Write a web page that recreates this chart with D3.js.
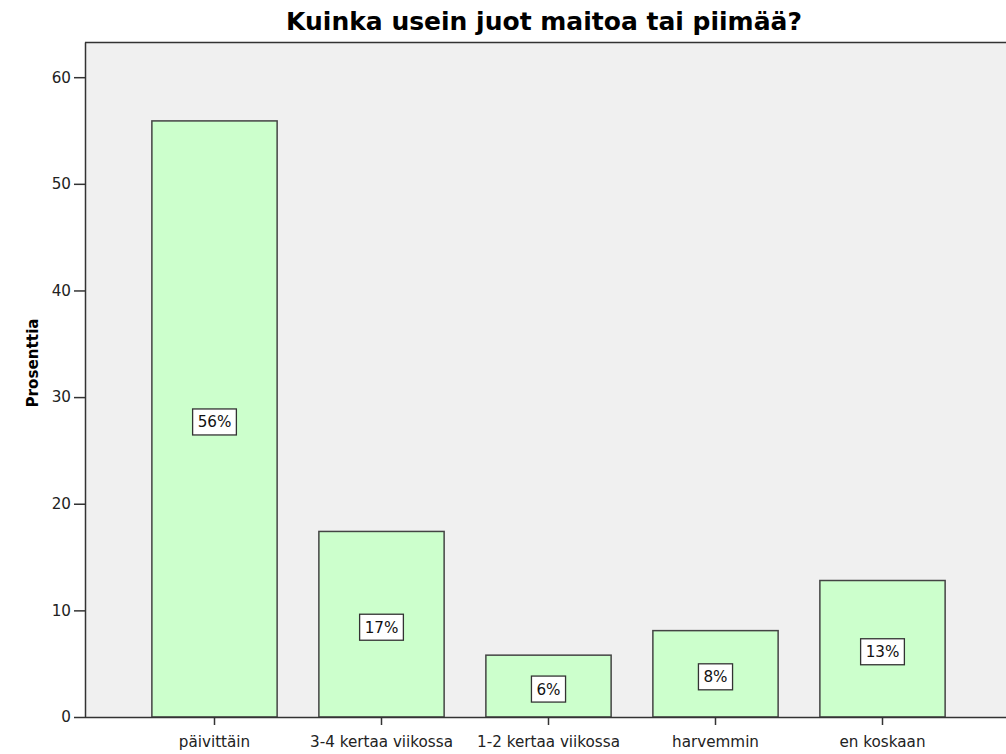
<!DOCTYPE html>
<html><head><meta charset="utf-8">
<script src="https://cdn.jsdelivr.net/npm/d3@7"></script>
<style>body{margin:0;background:#fff}svg{display:block;font-family:"DejaVu Sans",sans-serif}</style>
</head><body><svg id="c" width="1006" height="754"></svg>
<script>
const categories = ["päivittäin","3-4 kertaa viikossa","1-2 kertaa viikossa","harvemmin","en koskaan"];
const values = [55.9, 17.4, 5.8, 8.1, 12.8];
const valueLabels = ["56%","17%","6%","8%","13%"];
const yTicks = [0,10,20,30,40,50,60];
const title = "Kuinka usein juot maitoa tai piimää?";
const yTitle = "Prosenttia";

const svg = d3.select("#c");
const L = 85, R = 1006, T = 42, B = 717;
const FONT = "'DejaVu Sans',sans-serif";
const FS = 15.2;
const x = d3.scaleBand().domain(categories).range([131, 966]).paddingInner(0.25).paddingOuter(0.125);
const y = d3.scaleLinear().domain([0, 63.3]).range([B, T]);
const axisColor = "#333";

svg.append("rect").attr("x", L).attr("y", T).attr("width", R - L).attr("height", B - T).attr("fill", "#f0f0f0");
svg.append("line").attr("x1", L).attr("x2", R).attr("y1", T + 0.5).attr("y2", T + 0.5).attr("stroke", axisColor).attr("stroke-width", 1.5);

svg.selectAll("rect.bar").data(values).join("rect").attr("class", "bar")
  .attr("x", (d, i) => x(categories[i])).attr("width", x.bandwidth())
  .attr("y", d => y(d)).attr("height", d => B - y(d))
  .attr("fill", "#ccffcc").attr("stroke", "#444").attr("stroke-width", 1.5);

const lab = svg.selectAll("g.lab").data(values).join("g").attr("class", "lab")
  .attr("transform", (d, i) => `translate(${x(categories[i]) + x.bandwidth() / 2},${y(d / 2) + 3})`);
const labRect = lab.append("rect").attr("fill", "#fff").attr("stroke", "#333").attr("stroke-width", 1.3);
const labText = lab.append("text").attr("text-anchor", "middle").attr("dy", "0.36em")
  .attr("font-size", FS).attr("fill", "#111").attr("font-family", FONT)
  .text((d, i) => valueLabels[i]);
labText.each(function(d, i) {
  const w = this.getComputedTextLength() + 10;
  d3.select(labRect.nodes()[i]).attr("x", -w / 2).attr("y", -13).attr("width", w).attr("height", 26);
});

const ya = svg.append("g").attr("transform", `translate(${L},0)`)
  .call(d3.axisLeft(y).tickValues(yTicks).tickSize(11).tickPadding(3).tickSizeOuter(0));
ya.select(".domain").attr("stroke", axisColor).attr("stroke-width", 1.5);
ya.selectAll(".tick line").attr("stroke", axisColor).attr("stroke-width", 1.5);
ya.selectAll(".tick text").attr("font-size", FS).attr("fill", "#222").attr("font-family", FONT);

const xa = svg.append("g").attr("transform", `translate(0,${B})`)
  .call(d3.axisBottom(x).tickSize(8).tickPadding(11).tickSizeOuter(0));
xa.select(".domain").attr("d", `M${L},0.5H${R}`).attr("stroke", axisColor).attr("stroke-width", 1.5);
xa.selectAll(".tick line").attr("stroke", axisColor).attr("stroke-width", 1.5);
xa.selectAll(".tick text").attr("font-size", FS).attr("fill", "#222").attr("font-family", FONT);

svg.append("text").attr("x", 544).attr("y", 30).attr("text-anchor", "middle")
  .attr("font-size", 25).attr("font-weight", "bold").attr("fill", "#000").attr("font-family", FONT).text(title);

svg.append("text").attr("transform", `translate(38,363) rotate(-90)`).attr("text-anchor", "middle")
  .attr("font-size", FS).attr("font-weight", "bold").attr("fill", "#000").attr("font-family", FONT).text(yTitle);
</script></body></html>
